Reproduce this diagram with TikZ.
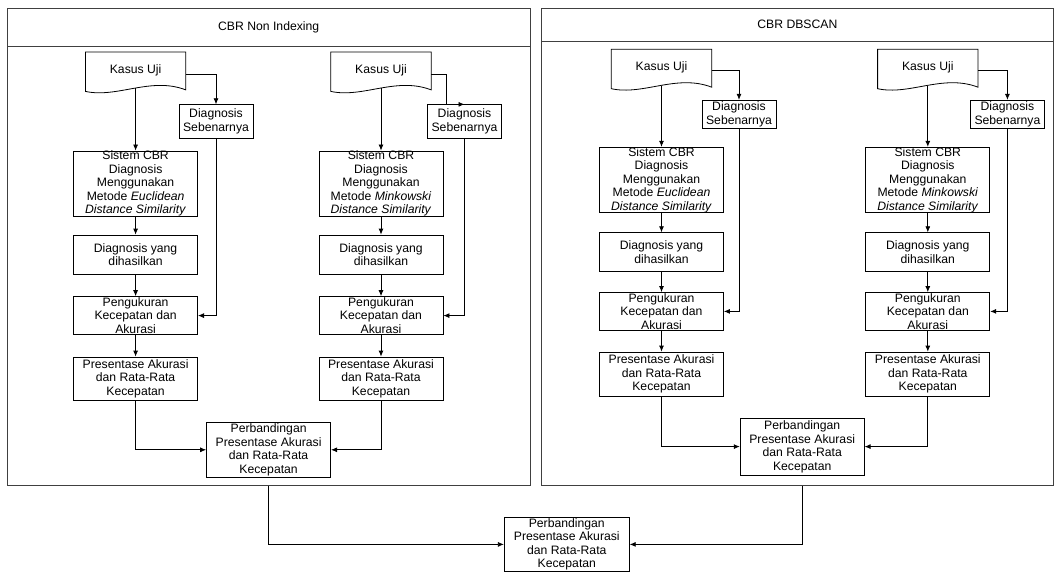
\documentclass[tikz,border=0pt]{standalone}
\usepackage{fontspec}
\setmainfont{Liberation Sans}
\usepackage{tikz}
\usetikzlibrary{arrows.meta, calc}

% wavy bottom of the Kasus Uji document shape
\newcommand{\kasusdoc}[1]{%
  \draw[line width=0.8pt] (#1.north west) -- (#1.north east) -- ([yshift=-1.5pt]#1.south east)
    .. controls ([xshift=-35pt,yshift=12pt]#1.south east) and ([xshift=32pt,yshift=-10pt]#1.south west)
    .. ([yshift=-3pt]#1.south west) -- cycle;}

\begin{document}
\begin{tikzpicture}[x=1pt, y=-1pt,
  font=\fontsize{12.2}{13.5}\selectfont,
  box/.style={draw, line width=0.8pt, align=center, inner xsep=2pt, inner ysep=-1pt, minimum width=124},
  sebenar/.style={box, minimum width=74},
  doc/.style={align=center, inner sep=0pt, minimum width=100, minimum height=36},
  panel/.style={draw=black!75, line width=0.9pt},
  head/.style={draw=black!75, line width=0.9pt},
  arr/.style={-{Latex[length=6pt,width=5pt]}, line width=0.8pt}]
\useasboundingbox (0,0) rectangle (1054,572);

% CBR Non Indexing
\node [panel, minimum width=522.7, minimum height=476.7] (panelL) at (268.7,246.7) {};
\node [head, minimum width=522.7, minimum height=38.2] (headL) at (268.7,27.4) {CBR Non Indexing};

\node [doc] (kasusL1) at (135.6,70.2) {Kasus Uji};
\node [sebenar, minimum height=33.5] (sebenarL1) at (216,121.5) {Diagnosis\\Sebenarnya};
\node [box, minimum height=65] (sistemL1) at (135.6,183.5) {Sistem CBR\\Diagnosis\\Menggunakan\\Metode \textit{Euclidean}\\\textit{Distance Similarity}};
\node [box, minimum height=39] (yangL1) at (135.6,254.5) {Diagnosis yang\\dihasilkan};
\node [box, minimum height=38] (ukurL1) at (135.6,315.6) {Pengukuran\\Kecepatan dan\\Akurasi};
\node [box, minimum height=43.6] (persenL1) at (135.6,378.8) {Presentase Akurasi\\dan Rata-Rata\\Kecepatan};

\node [doc] (kasusL2) at (381,70.2) {Kasus Uji};
\node [sebenar, minimum height=33.5] (sebenarL2) at (464.5,121.5) {Diagnosis\\Sebenarnya};
\node [box, minimum height=65] (sistemL2) at (381,183.5) {Sistem CBR\\Diagnosis\\Menggunakan\\Metode \textit{Minkowski}\\\textit{Distance Similarity}};
\node [box, minimum height=39] (yangL2) at (381,254.5) {Diagnosis yang\\dihasilkan};
\node [box, minimum height=38] (ukurL2) at (381,315.6) {Pengukuran\\Kecepatan dan\\Akurasi};
\node [box, minimum height=43.6] (persenL2) at (381,378.8) {Presentase Akurasi\\dan Rata-Rata\\Kecepatan};

\node [box, minimum height=54.4] (bandingL) at (268.6,449.8) {Perbandingan\\Presentase Akurasi\\dan Rata-Rata\\Kecepatan};

\kasusdoc{kasusL1}
\kasusdoc{kasusL2}
\draw [arr] ([yshift=-4pt]kasusL1.east) -| (sebenarL1.north);
\draw [arr] ([yshift=-4pt]kasusL2.east) -- ++(15,0) |- (sebenarL2.north);
\draw [arr] (kasusL1.south) -- (sistemL1.north);
\draw [arr] (kasusL2.south) -- (sistemL2.north);
\draw [arr] (sistemL1) -- (yangL1);
\draw [arr] (sistemL2) -- (yangL2);
\draw [arr] (yangL1) -- (ukurL1);
\draw [arr] (yangL2) -- (ukurL2);
\draw [arr] (sebenarL1.south) |- (ukurL1.east);
\draw [arr] (sebenarL2.south) |- (ukurL2.east);
\draw [arr] (ukurL1) -- (persenL1);
\draw [arr] (ukurL2) -- (persenL2);
\draw [arr] (persenL1.south) |- (bandingL.west);
\draw [arr] (persenL2.south) |- (bandingL.east);

% CBR DBSCAN
\node [panel, minimum width=511.3, minimum height=477.6] (panelR) at (797.4,247.1) {};
\node [head, minimum width=511.3, minimum height=32.7] (headR) at (797.4,24.65) {CBR DBSCAN};

\node [doc] (kasusR1) at (661.5,67.5) {Kasus Uji};
\node [sebenar, minimum height=28.5] (sebenarR1) at (739,114.5) {Diagnosis\\Sebenarnya};
\node [box, minimum height=65.5] (sistemR1) at (661.5,180) {Sistem CBR\\Diagnosis\\Menggunakan\\Metode \textit{Euclidean}\\\textit{Distance Similarity}};
\node [box, minimum height=39] (yangR1) at (661.5,252.2) {Diagnosis yang\\dihasilkan};
\node [box, minimum height=37.8] (ukurR1) at (661.5,311.4) {Pengukuran\\Kecepatan dan\\Akurasi};
\node [box, minimum height=44.2] (persenR1) at (661.5,374.1) {Presentase Akurasi\\dan Rata-Rata\\Kecepatan};

\node [doc] (kasusR2) at (927.8,67.5) {Kasus Uji};
\node [sebenar, minimum height=28.5] (sebenarR2) at (1007.4,114.5) {Diagnosis\\Sebenarnya};
\node [box, minimum height=65.5] (sistemR2) at (927.8,180) {Sistem CBR\\Diagnosis\\Menggunakan\\Metode \textit{Minkowski}\\\textit{Distance Similarity}};
\node [box, minimum height=39] (yangR2) at (927.8,252.2) {Diagnosis yang\\dihasilkan};
\node [box, minimum height=37.8] (ukurR2) at (927.8,311.4) {Pengukuran\\Kecepatan dan\\Akurasi};
\node [box, minimum height=44.2] (persenR2) at (927.8,374.1) {Presentase Akurasi\\dan Rata-Rata\\Kecepatan};

\node [box, minimum height=57] (bandingR) at (802.2,446.6) {Perbandingan\\Presentase Akurasi\\dan Rata-Rata\\Kecepatan};

\kasusdoc{kasusR1}
\kasusdoc{kasusR2}
\draw [arr] ([yshift=-3pt]kasusR1.east) -| (sebenarR1.north);
\draw [arr] ([yshift=-3pt]kasusR2.east) -| (sebenarR2.north);
\draw [arr] (kasusR1.south) -- (sistemR1.north);
\draw [arr] (kasusR2.south) -- (sistemR2.north);
\draw [arr] (sistemR1) -- (yangR1);
\draw [arr] (sistemR2) -- (yangR2);
\draw [arr] (yangR1) -- (ukurR1);
\draw [arr] (yangR2) -- (ukurR2);
\draw [arr] (sebenarR1.south) |- (ukurR1.east);
\draw [arr] (sebenarR2.south) |- (ukurR2.east);
\draw [arr] (ukurR1) -- (persenR1);
\draw [arr] (ukurR2) -- (persenR2);
\draw [arr] (persenR1.south) |- (bandingR.west);
\draw [arr] (persenR2.south) |- (bandingR.east);

% hasil akhir
\node [box, minimum width=125, minimum height=54] (final) at (566.8,544.4) {Perbandingan\\Presentase Akurasi\\dan Rata-Rata\\Kecepatan};
\draw [arr] (panelL.south) |- (final.west);
\draw [arr] (panelR.south -| bandingR) |- (final.east);
\end{tikzpicture}
\end{document}
